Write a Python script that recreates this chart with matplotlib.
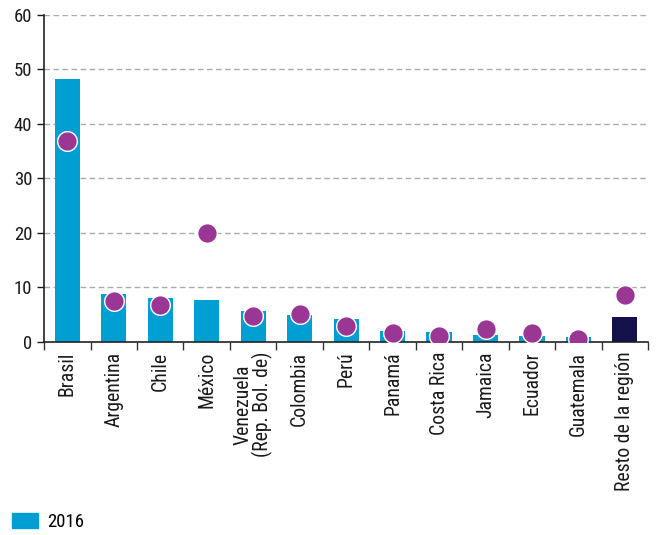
import numpy as np
import matplotlib
matplotlib.use("Agg")
import matplotlib.pyplot as plt
from matplotlib.ticker import FixedLocator

plt.rcParams['font.family'] = ['Roboto Condensed', 'Liberation Sans Narrow', 'Arial Narrow',
                               'Liberation Sans']

# Data
paises = ["Brasil", "Argentina", "Chile", "México", "Venezuela\n(Rep. Bol. de)",
          "Colombia", "Perú", "Panamá", "Costa Rica", "Jamaica", "Ecuador",
          "Guatemala", "Resto de la región"]
valores_2016 = [48.2, 8.7, 8.1, 7.6, 5.75, 4.9, 4.2, 2.0, 1.8, 1.2, 1.0, 0.85, 4.6]
puntos = [36.8, 7.5, 6.7, 20.0, 4.8, 5.1, 2.9, 1.6, 1.0, 2.3, 1.6, 0.6, 8.6]

CYAN = "#009fd3"
NAVY = "#13104b"
PURPLE = "#9a3795"

fig = plt.figure(figsize=(6.58, 5.35), dpi=100)
ax = fig.add_axes([0.067, 0.361, 0.918, 0.611])

x = np.arange(len(paises))
colores = [CYAN] * (len(paises) - 1) + [NAVY]
ax.bar(x, valores_2016, width=0.54, color=colores, zorder=2, label="2016")
ax.scatter(x, puntos, s=200, color=PURPLE, edgecolors="white", linewidths=1.0, zorder=3)

ax.set_xlim(-0.5, len(paises) - 0.5)
ax.set_ylim(0, 60)
ax.set_yticks(range(0, 61, 10))
for v in range(10, 61, 10):
    ax.axhline(v, color="#ababab", linestyle=(0, (4, 2.5)), linewidth=1.0, zorder=1)

# category boundaries as major ticks, labels on minor ticks
ax.xaxis.set_major_locator(FixedLocator(np.arange(-0.5, len(paises), 1.0)))
ax.set_xticklabels([])
ax.xaxis.set_minor_locator(FixedLocator(x))
ax.set_xticklabels(paises, minor=True, rotation=90, fontsize=14.2, color="#1a1a1a",
                   linespacing=1.0)
ax.tick_params(axis="x", which="minor", length=0, pad=7)
ax.tick_params(axis="x", which="major", length=6, width=1, color="#333333")
ax.tick_params(axis="y", length=5, width=1, labelsize=13.5, colors="#1a1a1a")

for s in ["top", "right"]:
    ax.spines[s].set_visible(False)
for s in ["left", "bottom"]:
    ax.spines[s].set_linewidth(1.2)
    ax.spines[s].set_color("#222222")

fig.legend(handles=[plt.Rectangle((0, 0), 1, 1, color=CYAN)], labels=["2016"],
           loc="lower left", bbox_to_anchor=(-0.008, -0.024), frameon=False,
           fontsize=13.5, handlelength=1.4, handleheight=0.85, handletextpad=0.5)

fig.savefig("out.png", dpi=100)
